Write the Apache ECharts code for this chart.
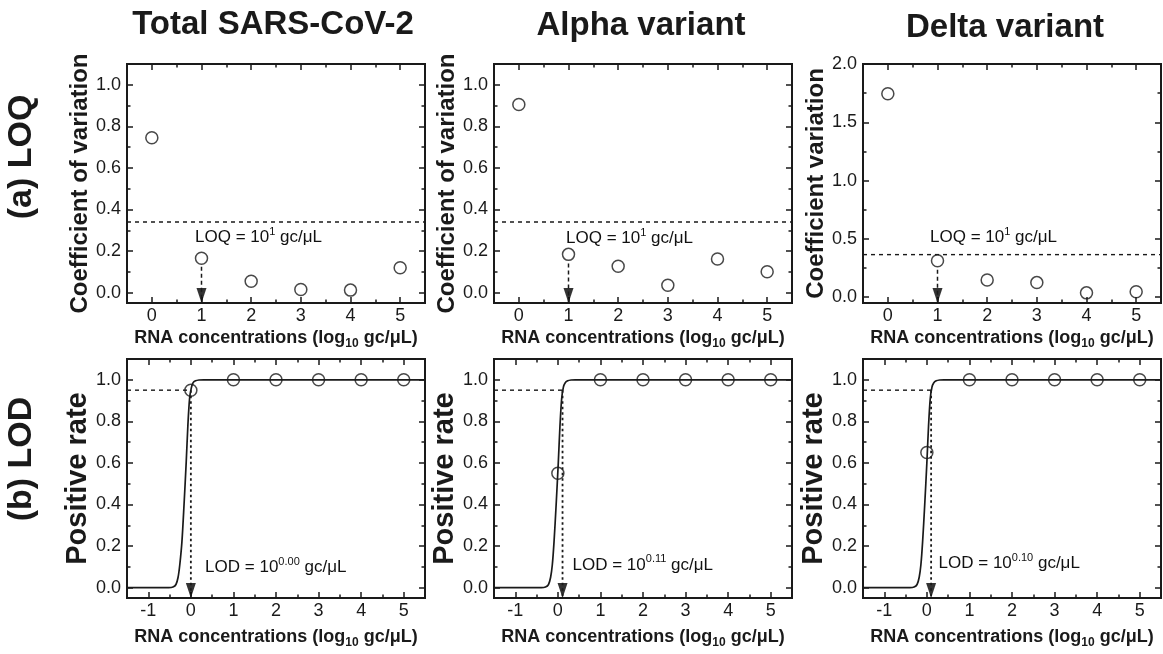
<!DOCTYPE html>
<html>
<head>
<meta charset="utf-8">
<script src="https://cdn.jsdelivr.net/npm/echarts@6/dist/echarts.min.js"></script>
<style>html,body{margin:0;padding:0;background:#fff}#c{width:1163px;height:654px}</style>
</head>
<body>
<div id="c"></div>
<script>
// ---------- data ----------
const concLOQ = [0, 1, 2, 3, 4, 5];
const cvTotal = [0.745, 0.165, 0.055, 0.015, 0.012, 0.12];
const cvAlpha = [0.905, 0.184, 0.127, 0.035, 0.162, 0.10];
const cvDelta = [1.745, 0.313, 0.148, 0.125, 0.037, 0.046];
const loqThreshold = [0.34, 0.34, 0.365];
const loqValue = [1, 1, 1];
const loqArrowStart = [0.125, 0.14, 0.235];
const loqLabelPos = [[0.87, 0.265], [0.95, 0.261], [0.85, 0.515]];
const loqLabelSup = ['1', '1', '1'];

const concLOD = [0, 1, 2, 3, 4, 5];
const posTotal = [0.95, 1, 1, 1, 1, 1];
const posAlpha = [0.55, 1, 1, 1, 1, 1];
const posDelta = [0.65, 1, 1, 1, 1, 1];
const lodValue = [0.00, 0.11, 0.10];
const lodLevel = [0.95, 0.95, 0.95];
const lodLabelSup = ['0.00', '0.11', '0.10'];
const lodLabelPos = [[0.335, 0.098], [0.345, 0.109], [0.275, 0.117]];

// fitted curves
const curveTotalX = [-1.5, -0.52, -0.42, -0.35, -0.3, -0.26, -0.21, -0.16, -0.11, -0.07, -0.03, 0.01, 0.05, 0.11, 0.19, 0.3, 5.5];
const curveTotalY = [0, 0, 0.003, 0.015, 0.05, 0.11, 0.22, 0.4, 0.6, 0.78, 0.91, 0.96, 0.985, 0.995, 0.999, 1, 1];
const curveAlphaX = [-1.5, -0.39, -0.29, -0.22, -0.17, -0.13, -0.09, -0.04, 0.01, 0.05, 0.09, 0.13, 0.17, 0.23, 0.31, 0.41, 5.5];
const curveAlphaY = [0, 0, 0.003, 0.015, 0.05, 0.11, 0.22, 0.4, 0.6, 0.78, 0.91, 0.965, 0.985, 0.995, 0.999, 1, 1];
const curveDeltaX = [-1.5, -0.4, -0.3, -0.23, -0.18, -0.14, -0.1, -0.05, 0, 0.04, 0.08, 0.12, 0.16, 0.22, 0.3, 0.4, 5.5];
const curveDeltaY = [0, 0, 0.003, 0.015, 0.05, 0.11, 0.22, 0.4, 0.6, 0.78, 0.91, 0.965, 0.985, 0.995, 0.999, 1, 1];

// ticks
const xRangeLOQ = [-0.5, 5.5];
const xRangeLOD = [-1.5, 5.5];
const xMajorLOQ = [0, 1, 2, 3, 4, 5];
const xMinorLOQ = [-0.5, 0.5, 1.5, 2.5, 3.5, 4.5, 5.5];
const xMajorLOD = [-1, 0, 1, 2, 3, 4, 5];
const xMinorLOD = [-1.5, -0.5, 0.5, 1.5, 2.5, 3.5, 4.5, 5.5];
const yRangeCV = [-0.05, 1.1];
const yRangeCVDelta = [-0.05, 2.0];
const yRangePos = [-0.05, 1.1];
const yMajor = [0, 0.2, 0.4, 0.6, 0.8, 1.0];
const yMinor = [0.1, 0.3, 0.5, 0.7, 0.9];
const yMajorDelta = [0, 0.5, 1.0, 1.5, 2.0];
const yMinorDelta = [0.25, 0.75, 1.25, 1.75];

const colTitles = ['Total SARS-CoV-2', 'Alpha variant', 'Delta variant'];
const rowTitles = ['(a) LOQ', '(b) LOD'];
const yNamesTop = ['Coefficient of variation', 'Coefficient of variation', 'Coefficient variation'];
const yNameBottom = 'Positive rate';
const xName = 'RNA concentrations (log{sub|10} gc/μL)';

// ---------- layout / style ----------
const FONT = '"Liberation Sans", Arial, Helvetica, sans-serif';
const INK = '#1a1a1a';
const gridLefts = [127, 494, 863];
const rowTops = [64, 359];
const gridW = 298, gridH = 239;

const grids = [], xAxes = [], yAxes = [], series = [];
const tickStyle = { color: INK, width: 1.5 };

function addPanel(gi, row, col, xr, xMaj, xMin, yr, yMaj, yMin, yName, yNameSize, yNameGap, xNameGap) {
  grids.push({ left: gridLefts[col], top: rowTops[row], width: gridW, height: gridH,
    show: true, borderColor: INK, borderWidth: 2, backgroundColor: 'transparent' });
  const common = { type: 'value', gridIndex: gi, splitLine: { show: false },
    axisLine: { show: false, onZero: false } };
  const nameStyle = { fontSize: 18, fontWeight: 'bold', color: INK, fontFamily: FONT, lineHeight: 24,
    rich: { sub: { fontSize: 12, fontWeight: 'bold', color: INK, fontFamily: FONT, lineHeight: 12, padding: [12, 0, 0, 0] } } };
  xAxes.push(Object.assign({}, common, { position: 'bottom', min: xr[0], max: xr[1],
    axisTick: { inside: true, length: 6, customValues: xMaj, lineStyle: tickStyle },
    axisLabel: { show: true, customValues: xMaj, margin: 4, fontSize: 18, color: INK, fontFamily: FONT },
    name: xName, nameLocation: 'middle', nameGap: xNameGap, nameTextStyle: nameStyle }));
  xAxes.push(Object.assign({}, common, { position: 'bottom', min: xr[0], max: xr[1],
    axisTick: { inside: true, length: 3.5, customValues: xMin, lineStyle: tickStyle }, axisLabel: { show: false } }));
  xAxes.push(Object.assign({}, common, { position: 'top', min: xr[0], max: xr[1],
    axisTick: { inside: true, length: 6, customValues: xMaj, lineStyle: tickStyle }, axisLabel: { show: false } }));
  xAxes.push(Object.assign({}, common, { position: 'top', min: xr[0], max: xr[1],
    axisTick: { inside: true, length: 3.5, customValues: xMin, lineStyle: tickStyle }, axisLabel: { show: false } }));
  yAxes.push(Object.assign({}, common, { position: 'left', min: yr[0], max: yr[1],
    axisTick: { inside: true, length: 6, customValues: yMaj, lineStyle: tickStyle },
    axisLabel: { show: true, customValues: yMaj, margin: 6, fontSize: 18, color: INK, fontFamily: FONT,
      formatter: v => Number(v).toFixed(1) },
    name: yName, nameLocation: 'middle', nameRotate: 90, nameGap: yNameGap,
    nameTextStyle: { fontSize: yNameSize, fontWeight: 'bold', color: INK, fontFamily: FONT } }));
  yAxes.push(Object.assign({}, common, { position: 'left', min: yr[0], max: yr[1],
    axisTick: { inside: true, length: 3.5, customValues: yMin, lineStyle: tickStyle }, axisLabel: { show: false } }));
  yAxes.push(Object.assign({}, common, { position: 'right', min: yr[0], max: yr[1],
    axisTick: { inside: true, length: 6, customValues: yMaj, lineStyle: tickStyle }, axisLabel: { show: false } }));
  yAxes.push(Object.assign({}, common, { position: 'right', min: yr[0], max: yr[1],
    axisTick: { inside: true, length: 3.5, customValues: yMin, lineStyle: tickStyle }, axisLabel: { show: false } }));
}

const circleStyle = { color: 'rgba(0,0,0,0)', borderColor: INK, borderWidth: 1.5 };
const arrowHead = 'path://M0,0L10,0L5,15Z';

function idx(gi) { return { xAxisIndex: gi * 4, yAxisIndex: gi * 4 }; }
function zip(a, b) { return a.map((v, i) => [v, b[i]]); }

const annotations = []; // [gridIndex, [x, y], text]

const cvSets = [cvTotal, cvAlpha, cvDelta];
for (let c = 0; c < 3; c++) {
  const gi = c;
  const yr = c === 2 ? yRangeCVDelta : yRangeCV;
  addPanel(gi, 0, c, xRangeLOQ, xMajorLOQ, xMinorLOQ, yr,
    c === 2 ? yMajorDelta : yMajor, c === 2 ? yMinorDelta : yMinor,
    yNamesTop[c], 24, c === 2 ? 33 : 34, 20);
  series.push(Object.assign({ type: 'line', symbol: 'none', silent: true,
    data: [[xRangeLOQ[0], loqThreshold[c]], [xRangeLOQ[1], loqThreshold[c]]],
    lineStyle: { color: INK, width: 1.4, type: [4, 4] } }, idx(gi)));
  series.push(Object.assign({ type: 'line', symbol: 'none', silent: true,
    data: [[loqValue[c], loqArrowStart[c]], [loqValue[c], yr[0]]],
    lineStyle: { color: INK, width: 1.5, type: [4, 3] } }, idx(gi)));
  series.push(Object.assign({ type: 'scatter', silent: true, clip: false, data: [[loqValue[c], yr[0]]],
    symbol: arrowHead, symbolSize: [10, 15], symbolOffset: [0, -7.5], itemStyle: { color: '#000' } }, idx(gi)));
  series.push(Object.assign({ type: 'scatter', data: zip(concLOQ, cvSets[c]), symbol: 'circle',
    symbolSize: 12, itemStyle: circleStyle, z: 4 }, idx(gi)));
  annotations.push([gi, loqLabelPos[c], 'LOQ = 10{sup|' + loqLabelSup[c] + '} gc/μL']);
}

const posSets = [posTotal, posAlpha, posDelta];
const curves = [[curveTotalX, curveTotalY], [curveAlphaX, curveAlphaY], [curveDeltaX, curveDeltaY]];
for (let c = 0; c < 3; c++) {
  const gi = 3 + c;
  addPanel(gi, 1, c, xRangeLOD, xMajorLOD, xMinorLOD, yRangePos, yMajor, yMinor,
    yNameBottom, 29, 34, 27);
  series.push(Object.assign({ type: 'line', symbol: 'none', silent: true,
    data: [[xRangeLOD[0], lodLevel[c]], [lodValue[c], lodLevel[c]]],
    lineStyle: { color: INK, width: 1.4, type: [4, 4] } }, idx(gi)));
  series.push(Object.assign({ type: 'line', symbol: 'none', silent: true,
    data: [[lodValue[c], lodLevel[c]], [lodValue[c], yRangePos[0]]],
    lineStyle: { color: INK, width: 1.8, type: [2.5, 3] } }, idx(gi)));
  series.push(Object.assign({ type: 'scatter', silent: true, clip: false, data: [[lodValue[c], yRangePos[0]]],
    symbol: arrowHead, symbolSize: [10, 15], symbolOffset: [0, -7.5], itemStyle: { color: '#000' } }, idx(gi)));
  series.push(Object.assign({ type: 'line', symbol: 'none', silent: true, smooth: 0.3,
    data: zip(curves[c][0], curves[c][1]), lineStyle: { color: INK, width: 1.7 } }, idx(gi)));
  series.push(Object.assign({ type: 'scatter', data: zip(concLOD, posSets[c]), symbol: 'circle',
    symbolSize: 12, itemStyle: circleStyle, z: 4 }, idx(gi)));
  annotations.push([gi, lodLabelPos[c], 'LOD = 10{sup|' + lodLabelSup[c] + '} gc/μL']);
}

const titleFont = 'bold 33px ' + FONT;
const graphic = [
  { type: 'text', x: 273, y: 25, style: { text: colTitles[0], fill: INK, font: titleFont, align: 'center', verticalAlign: 'middle' } },
  { type: 'text', x: 641, y: 26, style: { text: colTitles[1], fill: INK, font: titleFont, align: 'center', verticalAlign: 'middle' } },
  { type: 'text', x: 1005, y: 28, style: { text: colTitles[2], fill: INK, font: titleFont, align: 'center', verticalAlign: 'middle' } },
  { type: 'text', x: 22, y: 157, rotation: Math.PI / 2, style: { text: rowTitles[0], fill: INK, font: 'bold 34px ' + FONT, align: 'center', verticalAlign: 'middle' } },
  { type: 'text', x: 22, y: 459, rotation: Math.PI / 2, style: { text: rowTitles[1], fill: INK, font: 'bold 34px ' + FONT, align: 'center', verticalAlign: 'middle' } }
];

const chart = echarts.init(document.getElementById('c'), null, { renderer: 'canvas' });
chart.setOption({
  animation: false,
  backgroundColor: '#fff',
  grid: grids,
  xAxis: xAxes,
  yAxis: yAxes,
  series: series,
  graphic: graphic
});

// annotation texts anchored at data coordinates
annotations.forEach(a => {
  const p = chart.convertToPixel({ gridIndex: a[0] }, a[1]);
  graphic.push({ type: 'text', x: p[0], y: p[1], z: 10,
    style: { text: a[2], fill: '#111', fontSize: 17, fontFamily: FONT, align: 'left', verticalAlign: 'middle',
      lineHeight: 23,
      rich: { sup: { fontSize: 11, fill: '#111', fontFamily: FONT, lineHeight: 11, padding: [0, 0, 11, 0] } } } });
});
chart.setOption({ graphic: graphic });
</script>
</body>
</html>
